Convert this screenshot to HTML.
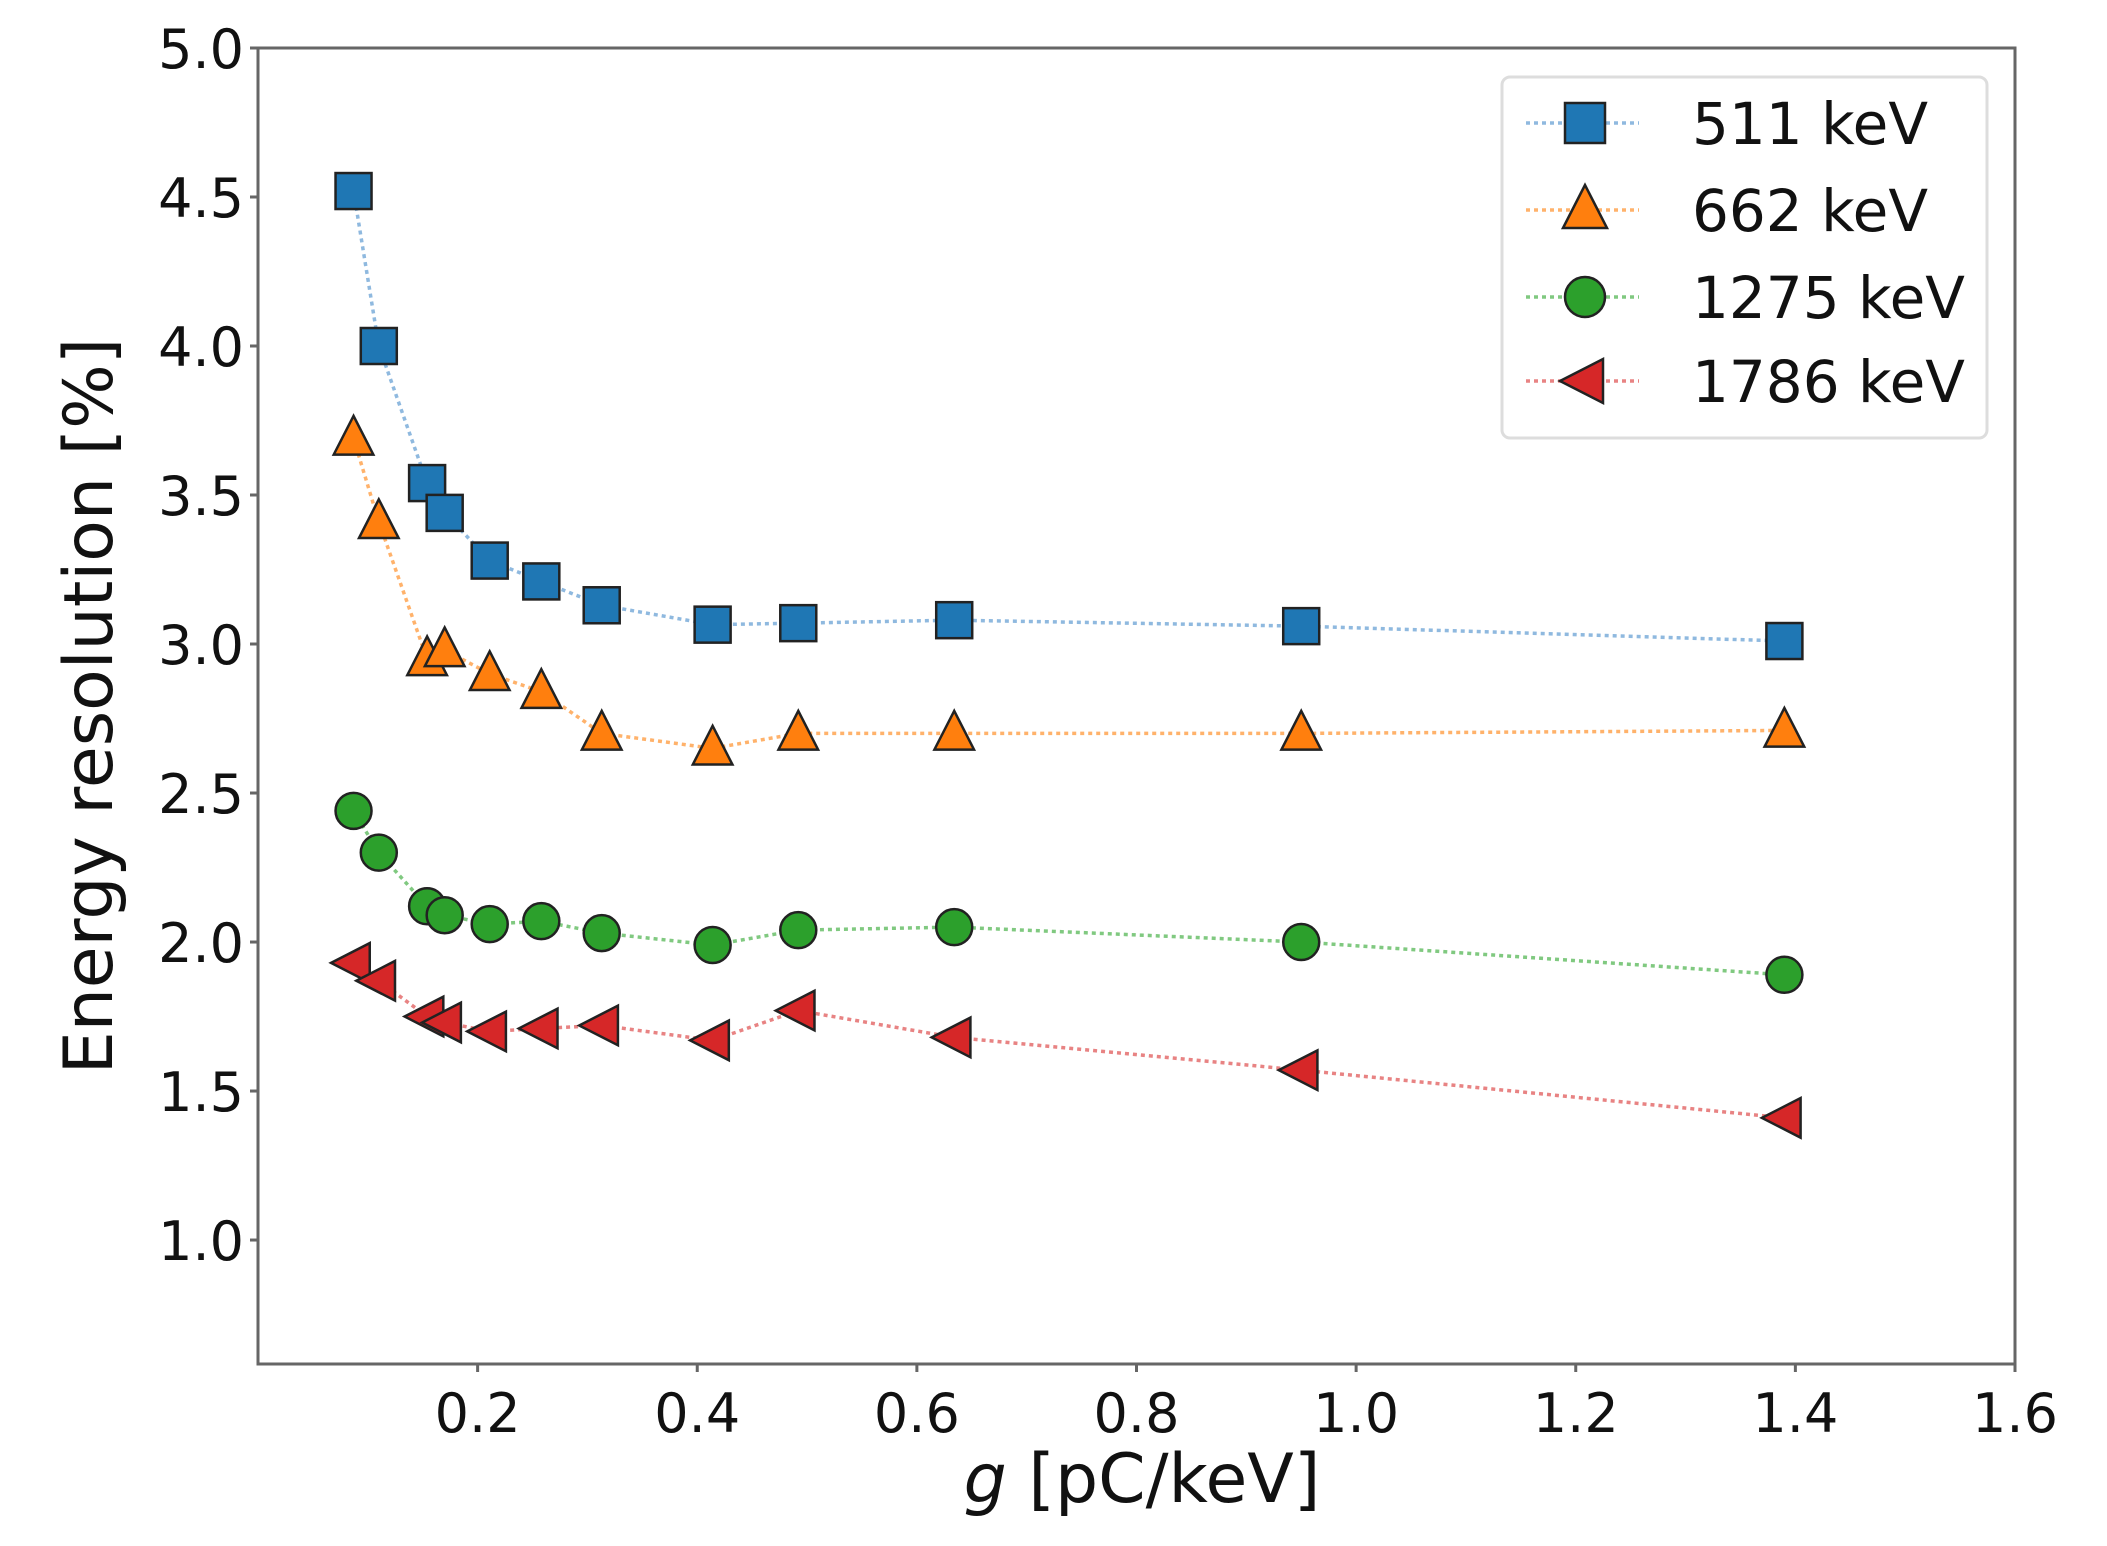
<!DOCTYPE html>
<html><head><meta charset="utf-8"><style>
html,body{margin:0;padding:0;background:#fff;}
svg text{font-family:"DejaVu Sans","Liberation Sans",sans-serif;fill:#111;}
</style></head><body>
<svg id="chart" width="2107" height="1541" viewBox="0 0 2107 1541" xmlns="http://www.w3.org/2000/svg">
<g id="series"></g>
<g id="axes"></g>
<g id="legend"></g>
</svg>
<script>
const gValues = [0.087,0.110,0.154,0.170,0.211,0.258,0.313,0.414,0.492,0.634,0.950,1.390];
const res511 = [4.52,4.00,3.54,3.44,3.28,3.21,3.13,3.065,3.07,3.08,3.06,3.01];
const res662 = [3.69,3.41,2.95,2.98,2.90,2.84,2.70,2.65,2.70,2.70,2.70,2.71];
const res1275 = [2.44,2.30,2.12,2.09,2.06,2.07,2.03,1.99,2.04,2.05,2.00,1.89];
const res1786 = [1.93,1.87,1.75,1.73,1.70,1.71,1.72,1.67,1.77,1.68,1.57,1.41];
const xTicks = [0.2,0.4,0.6,0.8,1.0,1.2,1.4,1.6];
const yTicks = [1.0,1.5,2.0,2.5,3.0,3.5,4.0,4.5,5.0];
const seriesNames = ["511 keV","662 keV","1275 keV","1786 keV"];

const NS="http://www.w3.org/2000/svg";
const L=258,R=2015,T=48,B=1364;
const X0=0,X1=1.6,Y0=0.584,Y1=5.0;
function xs(v){return L+(v-X0)/(X1-X0)*(R-L);}
function ys(v){return B-(v-Y0)/(Y1-Y0)*(B-T);}
function mk(tag,attrs,parent){const e=document.createElementNS(NS,tag);for(const k in attrs)e.setAttribute(k,attrs[k]);parent.appendChild(e);return e;}

const series=[
 {data:res511,line:"#8fb9df",fill:"#1f77b4",m:"square",key:"511"},
 {data:res662,line:"#ffb26b",fill:"#ff7f0e",m:"triangle",key:"662"},
 {data:res1275,line:"#80c980",fill:"#2ca02c",m:"circle",key:"1275"},
 {data:res1786,line:"#e88383",fill:"#d62728",m:"tri-left",key:"1786"}
];
function marker(type,cx,cy,fill,parent,s){
  let e;
  if(type==="square") e=mk("rect",{x:cx-s,y:cy-s,width:2*s,height:2*s},parent);
  else if(type==="circle") e=mk("circle",{cx:cx,cy:cy,r:s},parent);
  else if(type==="triangle") e=mk("polygon",{points:`${cx},${cy-s*1.25} ${cx-s*1.1},${cy+s*0.9} ${cx+s*1.1},${cy+s*0.9}`},parent);
  else e=mk("polygon",{points:`${cx-s*1.25},${cy} ${cx+s*0.9},${cy-s*1.1} ${cx+s*0.9},${cy+s*1.1}`},parent);
  e.setAttribute("fill",fill);e.setAttribute("stroke","#222");e.setAttribute("stroke-width","2.5");
  return e;
}
const sg=document.getElementById("series");
series.forEach((s,i)=>{
  const g=mk("g",{},sg);
  
  
  const pts=gValues.map((x,j)=>xs(x)+","+ys(s.data[j])).join(" ");
  const pl=mk("polyline",{points:pts,fill:"none",stroke:s.line,"stroke-width":3.5,"stroke-dasharray":"4 4"},g);
  
  
  gValues.forEach((x,j)=>{
    const m=marker(s.m,xs(x),ys(s.data[j]),s.fill,g,18);
    
    
  });
});
const ax=document.getElementById("axes");
const frame=mk("rect",{x:L,y:T,width:R-L,height:B-T,fill:"none",stroke:"#666","stroke-width":3},ax);


xTicks.forEach(v=>{
  const x=xs(v);
  mk("line",{x1:x,y1:B,x2:x,y2:B+8,stroke:"#666","stroke-width":3},ax);
  const t=mk("text",{x:x,y:B+68,"text-anchor":"middle","font-size":54},ax);
  t.textContent=v.toFixed(1);
  
  
});
yTicks.forEach(v=>{
  const y=ys(v);
  mk("line",{x1:L-8,y1:y,x2:L,y2:y,stroke:"#666","stroke-width":3},ax);
  const t=mk("text",{x:L-14,y:y+20,"text-anchor":"end","font-size":54},ax);
  t.textContent=v.toFixed(1);
  
  
});
const xl=mk("text",{x:1142,y:1502,"text-anchor":"middle","font-size":68},ax);
xl.innerHTML='<tspan font-style="italic">g</tspan> [pC/keV]';


const yl=mk("text",{x:0,y:0,"text-anchor":"middle","font-size":68,transform:"translate(112,706) rotate(-90)"},ax);
yl.textContent="Energy resolution [%]";



const lg=document.getElementById("legend");
const box=mk("rect",{x:1502,y:77,width:485,height:361,rx:8,fill:"#fff",stroke:"#ddd","stroke-width":3},lg);


const rows=[123,210,297,381];
series.forEach((s,i)=>{
  const g=mk("g",{},lg);
  
  
  mk("line",{x1:1526,y1:rows[i],x2:1639,y2:rows[i],stroke:s.line,"stroke-width":3.5,"stroke-dasharray":"4 4"},g);
  marker(s.m,1585,rows[i],s.fill,g,20);
  const t=mk("text",{x:1692,y:rows[i]+21,"font-size":58},g);
  t.textContent=seriesNames[i];
});
</script>
</body></html>
